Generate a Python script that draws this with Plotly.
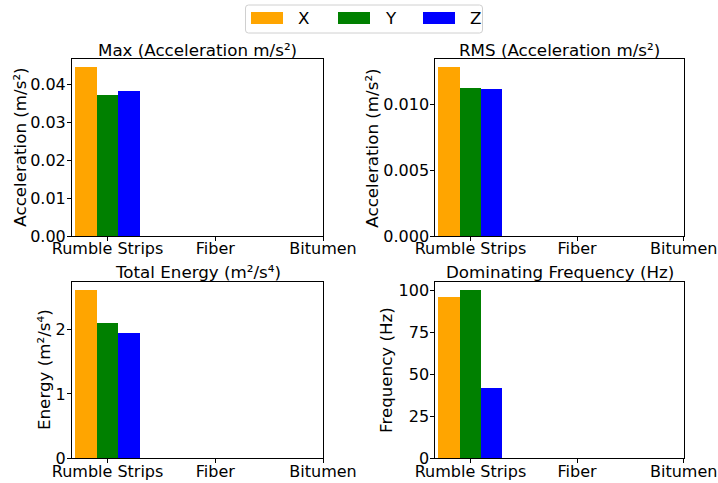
import plotly.graph_objects as go

# Road surface categories and measured vibration metrics per axis
categories = ["Rumble Strips", "Fiber", "Bitumen"]
axes_names = ["X", "Y", "Z"]
colors = ["orange", "green", "blue"]

max_accel = {"X": [0.0443, None, None], "Y": [0.0371, None, None], "Z": [0.0382, None, None]}
rms_accel = {"X": [0.0128, None, None], "Y": [0.01122, None, None], "Z": [0.01115, None, None]}
total_energy = {"X": [2.615, None, None], "Y": [2.104, None, None], "Z": [1.949, None, None]}
dom_freq = {"X": [96.2, None, None], "Y": [100.3, None, None], "Z": [42.0, None, None]}

W, H = 718, 483
FONT = "DejaVu Sans"
FS = 16.7
TICK_FS = 16


def px(x):
    return x / W


def py(y):
    return 1 - y / H


panels = [
    # data, title, y title, dtick, tickformat, x domain px, y domain px, y-title x px
    (max_accel, "Max (Acceleration m/s²)", "Acceleration (m/s²)", 0.01, ".2f", (72, 323), (59.3, 236), 20),
    (rms_accel, "RMS (Acceleration m/s²)", "Acceleration (m/s²)", 0.005, ".3f", (435.3, 683.7), (59.3, 236), 372),
    (total_energy, "Total Energy (m²/s⁴)", "Energy (m²/s⁴)", 1, "d", (72, 323), (281.7, 458.3), 44),
    (dom_freq, "Dominating Frequency (Hz)", "Frequency (Hz)", 25, "d", (435.3, 683.7), (281.7, 458.3), 386),
]

fig = go.Figure()
annotations = []
shapes = []
bar_w = 0.2
positions = list(range(len(categories)))

for k, (data, title, ytitle, dtick, fmt, xd, yd, ytx) in enumerate(panels):
    n = "" if k == 0 else str(k + 1)
    for i, name in enumerate(axes_names):
        fig.add_trace(go.Bar(
            x=positions, y=data[name], name=name,
            width=bar_w, offset=-1.5 * bar_w + i * bar_w,
            marker=dict(color=colors[i], line=dict(width=0)),
            xaxis="x" + n, yaxis="y" + n, showlegend=False,
        ))
    vmax = max(v for s in data.values() for v in s if v is not None)
    axis_common = dict(
        showline=True, linecolor="black", linewidth=1, mirror=True,
        ticks="outside", ticklen=4, tickwidth=1, tickcolor="black",
        showgrid=False, zeroline=False, automargin=False,
        ticklabeloverflow="allow",
        tickfont=dict(family=FONT, size=TICK_FS, color="black"),
    )
    fig.layout["xaxis" + n] = dict(
        axis_common, domain=[px(xd[0]), px(xd[1])], anchor="y" + n,
        range=[-1.5 * bar_w - 0.05 * 3 * bar_w, len(categories) - 1],
        tickmode="array", tickvals=positions, ticktext=categories,
        ticklabelstandoff=-6,
    )
    fig.layout["yaxis" + n] = dict(
        axis_common, domain=[py(yd[1]), py(yd[0])], anchor="x" + n,
        range=[0, vmax * 1.05], dtick=dtick, tick0=0, tickformat=fmt,
        ticklabelstandoff=-2,
    )
    annotations.append(dict(
        text=title, x=px((xd[0] + xd[1]) / 2), y=py(yd[0] - 9.5),
        xref="paper", yref="paper", xanchor="center", yanchor="middle",
        showarrow=False, font=dict(family=FONT, size=FS, color="black"),
    ))
    annotations.append(dict(
        text=ytitle, x=px(ytx), y=py((yd[0] + yd[1]) / 2),
        xref="paper", yref="paper", xanchor="center", yanchor="middle",
        textangle=-90, showarrow=False,
        font=dict(family=FONT, size=FS, color="black"),
    ))

# Legend box with rounded corners along the top
lx0, lx1, ly0, ly1, r = 245.5, 482.5, 5, 33, 3
path = (
    f"M {px(lx0 + r)},{py(ly0)} L {px(lx1 - r)},{py(ly0)} "
    f"Q {px(lx1)},{py(ly0)} {px(lx1)},{py(ly0 + r)} "
    f"L {px(lx1)},{py(ly1 - r)} Q {px(lx1)},{py(ly1)} {px(lx1 - r)},{py(ly1)} "
    f"L {px(lx0 + r)},{py(ly1)} Q {px(lx0)},{py(ly1)} {px(lx0)},{py(ly1 - r)} "
    f"L {px(lx0)},{py(ly0 + r)} Q {px(lx0)},{py(ly0)} {px(lx0 + r)},{py(ly0)} Z"
)
shapes.append(dict(type="path", path=path, xref="paper", yref="paper",
                   line=dict(color="#d0d0d0", width=1), fillcolor="white"))
patch_x = [251, 338, 423]
for i, name in enumerate(axes_names):
    x0 = patch_x[i]
    shapes.append(dict(type="rect", xref="paper", yref="paper",
                       x0=px(x0), x1=px(x0 + 32), y0=py(24), y1=py(12),
                       fillcolor=colors[i], line=dict(width=0)))
    annotations.append(dict(
        text=name, x=px(x0 + 45), y=py(18.5), xref="paper", yref="paper",
        xanchor="left", yanchor="middle", showarrow=False,
        font=dict(family=FONT, size=FS, color="black"),
    ))

fig.update_layout(
    width=W, height=H, margin=dict(l=0, r=0, t=0, b=0),
    paper_bgcolor="white", plot_bgcolor="white",
    barmode="overlay", bargap=0,
    annotations=annotations, shapes=shapes,
    font=dict(family=FONT, size=FS, color="black"),
)

fig.write_html("out.html")
